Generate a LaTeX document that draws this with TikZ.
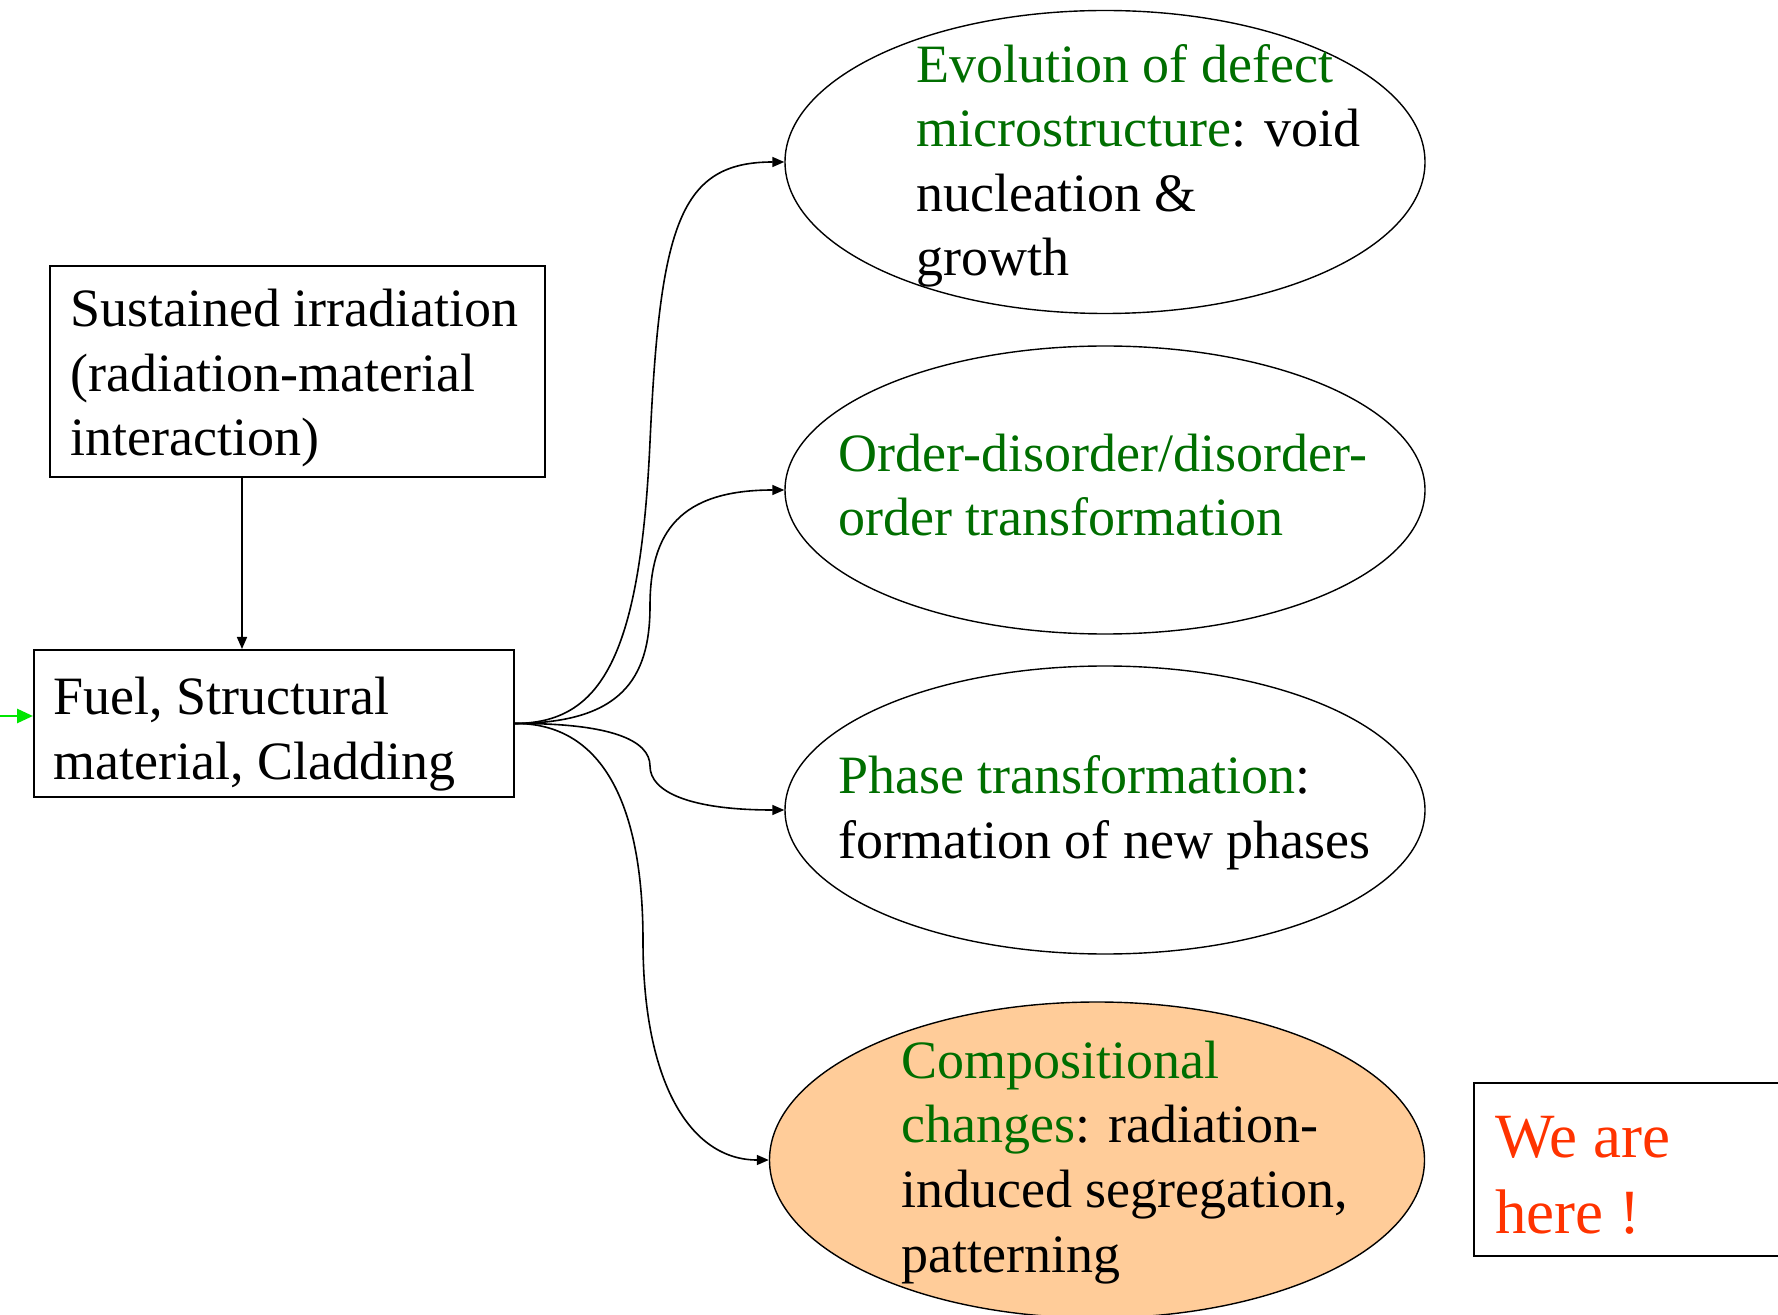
\documentclass[tikz,border=0pt]{standalone}
\usepackage{fontspec}
\setmainfont{Liberation Serif}
\usetikzlibrary{shapes.geometric,arrows.meta}
\definecolor{tgreen}{RGB}{0,110,0}
\definecolor{tred}{RGB}{255,51,0}
\definecolor{peach}{RGB}{255,204,153}
\definecolor{lgreen}{RGB}{0,230,0}
\begin{document}
\begin{tikzpicture}[x=0.5pt,y=-0.5pt,
  boxsh/.style={draw=black,line width=1pt,rectangle,inner sep=0pt},
  ellsh/.style={draw=black,line width=0.7pt,ellipse,inner sep=0pt,minimum width=320pt},
  txt/.style={inner sep=0pt,align=left,font=\fontsize{27}{32.3}\selectfont},
  bigtxt/.style={inner sep=0pt,align=left,font=\fontsize{31.5}{38}\selectfont,text=tred},
  conn/.style={draw=black,line width=0.8pt,-{Triangle[length=6pt,width=5pt]}},
  gconn/.style={draw=lgreen,line width=1.4pt,-{Triangle[length=8pt,width=7pt]}}]
\useasboundingbox (0,0) rectangle (1778,1315);
% shapes
\node[boxsh,minimum width=247.5pt,minimum height=105.5pt] (box1) at (297.5,371.5) {};
\node[boxsh,minimum width=240pt,minimum height=73.5pt] (box2) at (274,723.5) {};
\node[ellsh,minimum height=151.5pt] (e1) at (1105,162) {};
\node[ellsh,minimum height=144pt] (e2) at (1105,490) {};
\node[ellsh,minimum height=144pt] (e3) at (1105,810) {};
\node[ellsh,fill=peach,minimum width=327.5pt,minimum height=158pt] (e4) at (1097,1160) {};
\node[boxsh,anchor=north west,minimum width=170pt,minimum height=86.5pt] (here) at (1473,1082) {};
% texts (anchor = baseline of the last line)
\node[txt,anchor=base west] (t1) at (70,456) {Sustained irradiation\\(radiation-material\\interaction)};
\node[txt,anchor=base west] (t2) at (53,779) {Fuel, Structural\\material, Cladding};
\node[txt,anchor=base west] (t3) at (916,276) {\textcolor{tgreen}{Evolution of defect}\\\textcolor{tgreen}{microstructure}: void\\nucleation \&\\growth};
\node[txt,anchor=base west,text=tgreen] (t4) at (838,536) {Order-disorder/disorder-\\order transformation};
\node[txt,anchor=base west] (t5) at (838,858) {\textcolor{tgreen}{Phase transformation}:\\formation of new phases};
\node[txt,anchor=base west] (t6) at (901,1272) {\textcolor{tgreen}{Compositional}\\\textcolor{tgreen}{changes}: radiation-\\induced segregation,\\patterning};
\node[bigtxt,anchor=base west] (t7) at (1495,1233) {We are\\here !};
% connectors
\coordinate (gstart) at (0,716);
\coordinate (vx) at (242,0);
\draw[gconn] (gstart) -- (gstart -| box2.west);
\draw[conn] (vx |- box1.south) -- (vx |- box2.north);
\draw[conn] (box2.east) .. controls (600,723) and (640,660) .. (650,442) .. controls (660,224) and (680,162) .. (e1.west);
\draw[conn] (box2.east) .. controls (620,723) and (650,680) .. (650,606) .. controls (650,532) and (680,490) .. (e2.west);
\draw[conn] (box2.east) .. controls (610,723) and (650,740) .. (650,766) .. controls (650,792) and (690,810) .. (e3.west);
\draw[conn] (box2.east) .. controls (600,723) and (643,800) .. (643,941) .. controls (643,1082) and (690,1160) .. (e4.west);
\end{tikzpicture}
\end{document}
